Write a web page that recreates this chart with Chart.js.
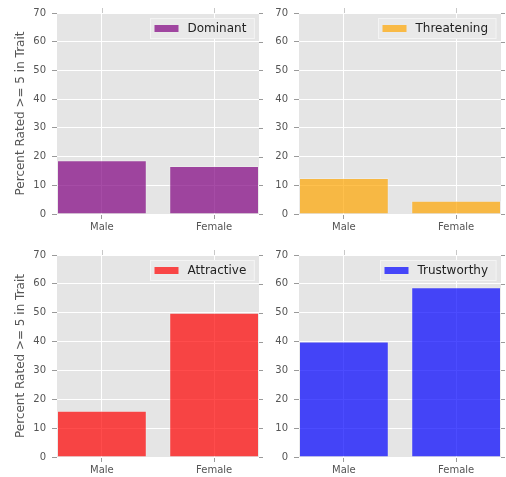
<!DOCTYPE html>
<html>
<head>
<meta charset="utf-8">
<script src="https://cdn.jsdelivr.net/npm/chart.js@4.4.1/dist/chart.umd.min.js"></script>
<style>
  html, body { margin: 0; padding: 0; background: #ffffff; }
  #wrap { position: relative; width: 506px; height: 477px; overflow: hidden; }
  .cell { position: absolute; }
</style>
</head>
<body>
<div id="wrap">
  <div class="cell" style="left:0;top:0;width:270px;height:240px"><canvas id="c1"></canvas></div>
  <div class="cell" style="left:270px;top:0;width:236px;height:240px"><canvas id="c2"></canvas></div>
  <div class="cell" style="left:0;top:240px;width:270px;height:237px"><canvas id="c3"></canvas></div>
  <div class="cell" style="left:270px;top:240px;width:236px;height:237px"><canvas id="c4"></canvas></div>
</div>
<script>
// Share of raters giving a score of 5 or more, by face gender
const categories = ['Male', 'Female'];
const traits = ['Dominant', 'Threatening', 'Attractive', 'Trustworthy'];
const dominant = [18.7, 16.7];
const threatening = [12.5, 4.6];
const attractive = [16.0, 50.0];
const trustworthy = [40.0, 58.8];
const yTicks = [0, 10, 20, 30, 40, 50, 60, 70];
const yTitle = 'Percent Rated >= 5 in Trait';

const FONT = "'DejaVu Sans', sans-serif";
const PANEL_BG = '#E5E5E5';

// panel background behind everything in the plot area
const panelBg = {
  id: 'panelBg',
  beforeDraw(chart) {
    const { ctx, chartArea: a } = chart;
    ctx.save();
    ctx.fillStyle = PANEL_BG;
    ctx.fillRect(a.left, a.top, a.right - a.left, a.bottom - a.top);
    ctx.restore();
  }
};

// tick marks on the right and top edges, legend box in the upper right
const extras = {
  id: 'extras',
  afterDatasetsDraw(chart) {
    const { ctx, chartArea: a } = chart;
    const xs = chart.scales.x, ys = chart.scales.y;
    ctx.save();
    ctx.lineWidth = 1;
    ctx.strokeStyle = '#9a9a9a';
    ys.ticks.forEach(t => {
      const y = Math.round(ys.getPixelForValue(t.value)) + 0.5;
      ctx.beginPath(); ctx.moveTo(a.right, y); ctx.lineTo(a.right + 4, y); ctx.stroke();
    });
    ctx.strokeStyle = '#c8c8c8';
    xs.ticks.forEach(t => {
      const x = Math.round(xs.getPixelForValue(t.value)) + 0.5;
      ctx.beginPath(); ctx.moveTo(x, a.top - 5); ctx.lineTo(x, a.top); ctx.stroke();
    });

    // legend
    const ds = chart.data.datasets[0];
    ctx.font = '12px ' + FONT;
    const tw = ctx.measureText(ds.label).width;
    const padL = 4, patchW = 24, gap = 9, padR = 8, boxH = 20;
    const boxW = padL + patchW + gap + tw + padR;
    const bx = Math.round(a.right - 5 - boxW) + 0.5;
    const by = Math.round(a.top + 5) + 0.5;
    ctx.fillStyle = '#E9E9E9';
    ctx.strokeStyle = '#F4F4F4';
    ctx.fillRect(bx, by, boxW, boxH);
    ctx.strokeRect(bx, by, boxW, boxH);
    ctx.fillStyle = ds.backgroundColor;
    ctx.fillRect(bx + padL, by + boxH / 2 - 3.5, patchW, 7);
    ctx.fillStyle = '#222222';
    ctx.textBaseline = 'middle';
    ctx.textAlign = 'left';
    ctx.fillText(ds.label, bx + padL + patchW + gap, by + boxH / 2 + 0.5);
    ctx.restore();
  }
};

function makePanel(id, label, values, color, opts) {
  const data = values.map((v, i) => ({ x: i, y: v }));
  return new Chart(document.getElementById(id), {
    type: 'bar',
    data: {
      datasets: [{
        label: label,
        data: data,
        backgroundColor: color,
        borderColor: 'rgba(238,238,238,0.6)',
        borderWidth: 1,
        barPercentage: 0.8,
        categoryPercentage: 1.0
      }]
    },
    options: {
      responsive: true,
      maintainAspectRatio: false,
      animation: false,
      devicePixelRatio: 1,
      layout: { padding: { top: opts.top, right: opts.right, left: 0, bottom: 0 } },
      plugins: { legend: { display: false }, tooltip: { enabled: false } },
      scales: {
        x: {
          type: 'linear',
          min: -0.4,
          max: 1.4,
          bounds: 'data',
          offset: false,
          afterBuildTicks(scale) {
            scale.ticks = categories.map((c, i) => ({ value: i }));
          },
          afterFit(scale) { scale.height = opts.xh; },
          ticks: {
            callback: v => categories[v],
            font: { family: FONT, size: 10 },
            color: '#555555',
            padding: 2,
            maxRotation: 0
          },
          grid: {
            offset: false,
            color: '#ffffff',
            lineWidth: 1,
            drawTicks: true,
            tickLength: 5,
            tickColor: '#9a9a9a'
          },
          border: { display: false }
        },
        y: {
          min: 0,
          max: 70,
          afterBuildTicks(scale) {
            scale.ticks = yTicks.map(v => ({ value: v }));
          },
          afterFit(scale) { scale.width = opts.yw; },
          ticks: {
            font: { family: FONT, size: 10 },
            color: '#555555',
            padding: 6
          },
          grid: {
            color: '#ffffff',
            lineWidth: 1,
            drawTicks: true,
            tickLength: 5,
            tickColor: '#9a9a9a'
          },
          border: { display: false },
          title: {
            display: opts.title,
            text: yTitle,
            font: { family: FONT, size: 12 },
            color: '#555555',
            padding: { top: 14, bottom: 0 }
          }
        }
      }
    },
    plugins: [panelBg, extras]
  });
}

makePanel('c1', traits[0], dominant, 'rgba(128,0,128,0.7)', { top: 13, right: 11, xh: 26, yw: 57, title: true });
makePanel('c2', traits[1], threatening, 'rgba(255,165,0,0.7)', { top: 13, right: 5, xh: 26, yw: 29, title: false });
makePanel('c3', traits[2], attractive, 'rgba(255,0,0,0.7)', { top: 15, right: 11, xh: 20, yw: 57, title: true });
makePanel('c4', traits[3], trustworthy, 'rgba(0,0,255,0.7)', { top: 15, right: 5, xh: 20, yw: 29, title: false });
</script>
</body>
</html>
